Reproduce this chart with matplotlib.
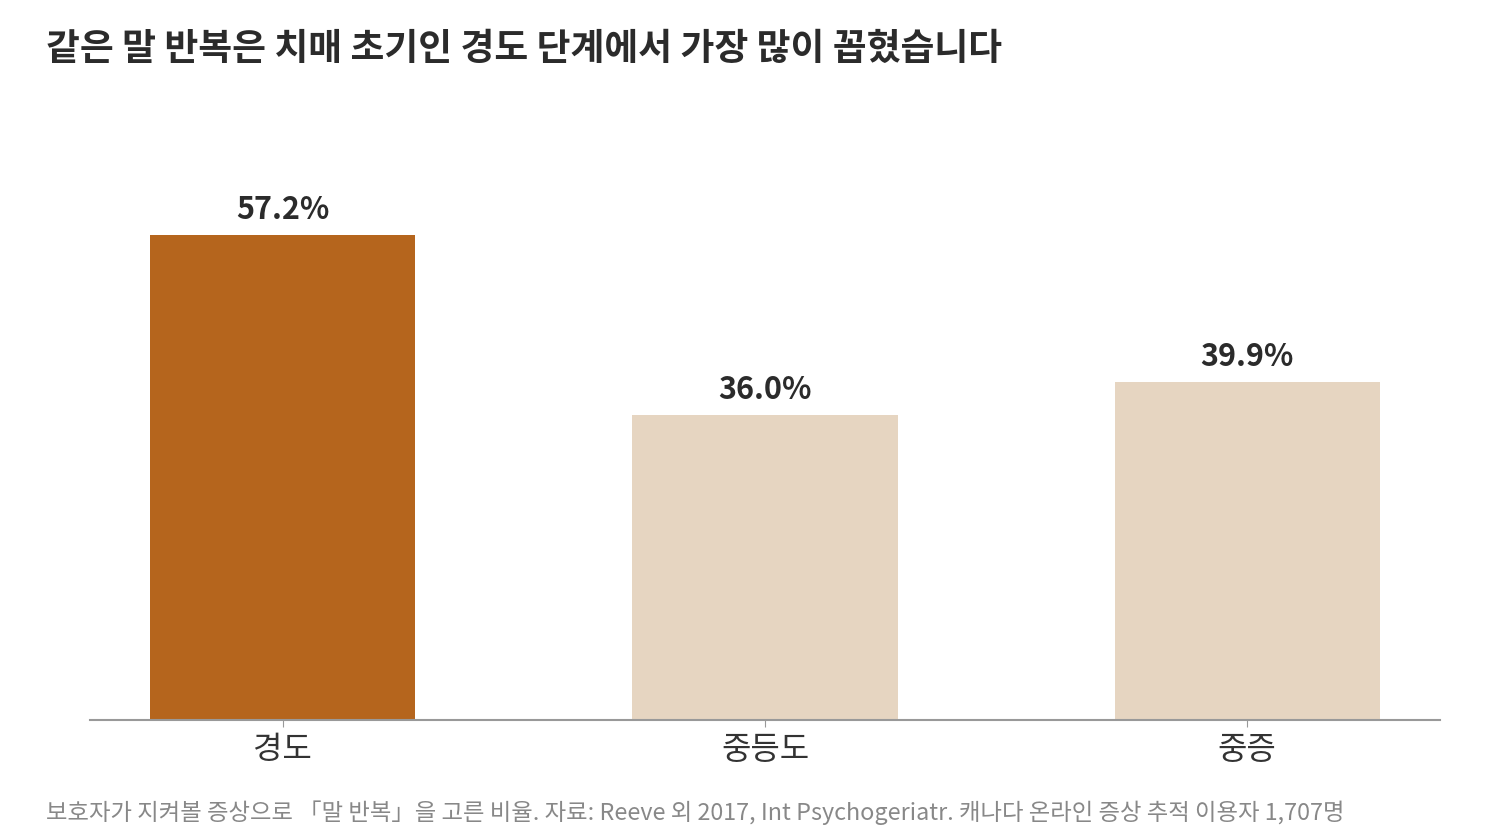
import matplotlib
matplotlib.use('Agg')
import matplotlib.pyplot as plt

plt.rcParams['font.family'] = ['Noto Sans CJK KR', 'DejaVu Sans']

stages = ['경도', '중등도', '중증']
values = [57.2, 36.0, 39.9]
colors = ['#B5651D', '#E6D5C1', '#E6D5C1']

fig = plt.figure(figsize=(15, 8.4), dpi=100)
ax = fig.add_axes([0.06, 0.142857, 0.9, 0.738])

x = range(len(stages))
ax.bar(x, values, width=0.55, color=colors)
for i, v in zip(x, values):
    ax.text(i, v + 1.0, f'{v:.1f}%', ha='center', va='bottom',
            fontsize=22, fontweight='bold', color='#2b2b2b')

ax.set_xlim(-0.4, 2.4)
ax.set_ylim(0, 73.1)
ax.set_xticks(list(x))
ax.set_xticklabels(stages, fontsize=23, color='#333333')
ax.tick_params(axis='x', length=5, color='#999999', pad=5)
ax.set_yticks([])
for s in ['top', 'right', 'left']:
    ax.spines[s].set_visible(False)
ax.spines['bottom'].set_color('#999999')
ax.spines['bottom'].set_linewidth(1.5)

fig.text(0.031, 0.941, '같은 말 반복은 치매 초기인 경도 단계에서 가장 많이 꼽혔습니다',
         fontsize=26.5, fontweight='bold', color='#2b2b2b', va='center')
fig.text(0.031, 0.033, '보호자가 지켜볼 증상으로 「말 반복」을 고른 비율. 자료: Reeve 외 2017, Int Psychogeriatr. 캐나다 온라인 증상 추적 이용자 1,707명',
         fontsize=16.8, color='#888888', va='center')

fig.savefig('out.png', dpi=100)
